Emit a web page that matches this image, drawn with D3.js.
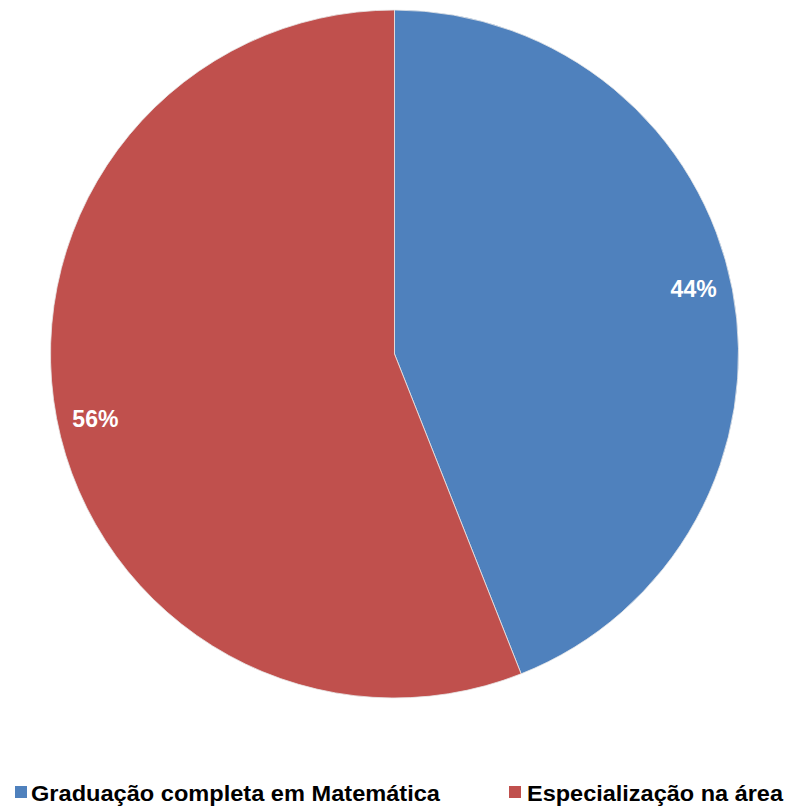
<!DOCTYPE html>
<html>
<head>
<meta charset="utf-8">
<script src="https://cdn.jsdelivr.net/npm/d3@7"></script>
<style>
  html, body { margin: 0; padding: 0; background: #fff; }
  svg { display: block; }
</style>
</head>
<body>
<svg id="chart" width="786" height="808"></svg>
<script>
// Formação dos professores
const categories = ["Graduação completa em Matemática", "Especialização na área"];
const values = [44, 56];
const colors = ["#4F81BD", "#C0504D"];

const svg = d3.select("#chart");
const cx = 394.5, cy = 354, radius = 344;

const pie = d3.pie().sort(null).value(d => d.value);
const arcs = pie(categories.map((c, i) => ({ name: c, value: values[i], color: colors[i] })));

const arc = d3.arc().innerRadius(0).outerRadius(radius);

const g = svg.append("g").attr("transform", `translate(${cx},${cy})`);

g.selectAll("path.slice")
  .data(arcs)
  .join("path")
  .attr("class", "slice")
  .attr("d", arc)
  .attr("fill", d => d.data.color)
  .attr("stroke", "#e8e8e8")
  .attr("stroke-width", 0.8);

// Percent labels placed near the rim, a little before each slice's mid-angle
const labelR = radius * 0.89;
const labelShift = -0.026;
function labelPos(d) {
  const a = (d.startAngle + d.endAngle) / 2 + labelShift;
  return [labelR * Math.sin(a), -labelR * Math.cos(a)];
}

g.selectAll("text.pct")
  .data(arcs)
  .join("text")
  .attr("class", "pct")
  .attr("x", d => labelPos(d)[0])
  .attr("y", d => labelPos(d)[1])
  .attr("dy", "0.36em")
  .attr("text-anchor", "middle")
  .attr("font-family", "Liberation Sans, Arial, sans-serif")
  .attr("font-weight", "bold")
  .attr("font-size", 23)
  .attr("fill", "#fff")
  .text(d => d.data.value + "%");

// Legenda
const legendX = [15, 509];
const legendTextX = [31, 527];
const legendW = [409, 256];
const legend = svg.append("g");
categories.forEach((c, i) => {
  legend.append("rect")
    .attr("x", legendX[i]).attr("y", 786)
    .attr("width", 12).attr("height", 12)
    .attr("fill", colors[i]);
  legend.append("text")
    .attr("x", legendTextX[i]).attr("y", 801)
    .attr("font-family", "Liberation Sans, Arial, sans-serif")
    .attr("font-weight", "bold")
    .attr("font-size", 22.5)
    .attr("fill", "#000")
    .attr("textLength", legendW[i])
    .attr("lengthAdjust", "spacingAndGlyphs")
    .text(c);
});
</script>
</body>
</html>
